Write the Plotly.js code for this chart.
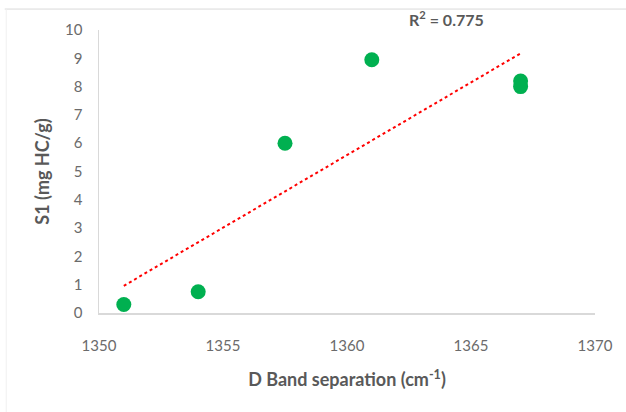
<!DOCTYPE html>
<html>
<head>
<meta charset="utf-8">
<script src="https://cdn.plot.ly/plotly-3.0.1.min.js"></script>
<style>
html,body{margin:0;padding:0;background:#fff;}
#chart{width:626px;height:412px;}
</style>
</head>
<body>
<div id="chart"></div>
<script>
// Data
const dBandSeparation = [1351, 1354, 1357.5, 1361, 1367, 1367];
const s1Values = [0.3, 0.75, 6.0, 8.95, 8.2, 8.0];
const xTickValues = [1350, 1355, 1360, 1365, 1370];
const yTickValues = [0, 1, 2, 3, 4, 5, 6, 7, 8, 9, 10];
const r2Label = 'R<sup>2</sup> = 0.775';

// Linear least-squares trendline from the data
const n = dBandSeparation.length;
const mx = dBandSeparation.reduce((a, b) => a + b, 0) / n;
const my = s1Values.reduce((a, b) => a + b, 0) / n;
let sxy = 0, sxx = 0;
for (let i = 0; i < n; i++) {
  sxy += (dBandSeparation[i] - mx) * (s1Values[i] - my);
  sxx += (dBandSeparation[i] - mx) ** 2;
}
const slope = sxy / sxx;
const intercept = my - slope * mx;
const xMin = Math.min(...dBandSeparation), xMax = Math.max(...dBandSeparation);
const trendX = [xMin, xMax];
const trendY = trendX.map(x => intercept + slope * x);

const tickFont = {family: 'Lato, "Open Sans", sans-serif', size: 15, color: '#6b6b6b'};
const titleFont = {family: 'Lato, "Open Sans", sans-serif', size: 18, color: '#595959', weight: 'bold'};

const traces = [
  {
    x: trendX, y: trendY, type: 'scatter', mode: 'lines',
    line: {color: '#ff0000', width: 2, dash: 'dot'},
    hoverinfo: 'skip', showlegend: false
  },
  {
    x: dBandSeparation, y: s1Values, type: 'scatter', mode: 'markers',
    marker: {color: '#00b050', size: 15},
    showlegend: false
  }
];

const layout = {
  width: 626, height: 412,
  margin: {l: 99, r: 31, t: 30, b: 99},
  paper_bgcolor: '#ffffff', plot_bgcolor: '#ffffff',
  showlegend: false,
  xaxis: {
    range: [1350, 1370], tickvals: xTickValues,
    showgrid: false, zeroline: false, showline: true, linecolor: '#d9d9d9', linewidth: 1.5,
    ticks: '', tickfont: tickFont, ticklabelstandoff: 18,
    title: {text: 'D Band separation (cm<sup>-1</sup>)', font: titleFont, standoff: 21}
  },
  yaxis: {
    range: [0, 10], tickvals: yTickValues,
    showgrid: false, zeroline: false, showline: true, linecolor: '#d9d9d9', linewidth: 1.5,
    ticks: '', tickfont: tickFont, ticklabelstandoff: 12,
    title: {text: 'S1 (mg HC/g)', font: titleFont, standoff: 11}
  },
  annotations: [{
    xref: 'paper', yref: 'paper', x: 0.70, y: 0.995, xanchor: 'center', yanchor: 'bottom',
    text: r2Label, showarrow: false,
    font: {family: 'Lato, "Open Sans", sans-serif', size: 16, color: '#595959', weight: 'bold'}
  }],
  shapes: [
    {type: 'line', xref: 'paper', yref: 'paper', x0: -0.19, x1: 1.07, y0: 1.074, y1: 1.074,
     line: {color: '#d9d9d9', width: 1}},
    {type: 'line', xref: 'paper', yref: 'paper', x0: -0.187, x1: -0.187, y0: 1.074, y1: -0.35,
     line: {color: '#f0f0f0', width: 1}}
  ]
};

Plotly.newPlot('chart', traces, layout, {displayModeBar: false, staticPlot: true});
</script>
</body>
</html>
